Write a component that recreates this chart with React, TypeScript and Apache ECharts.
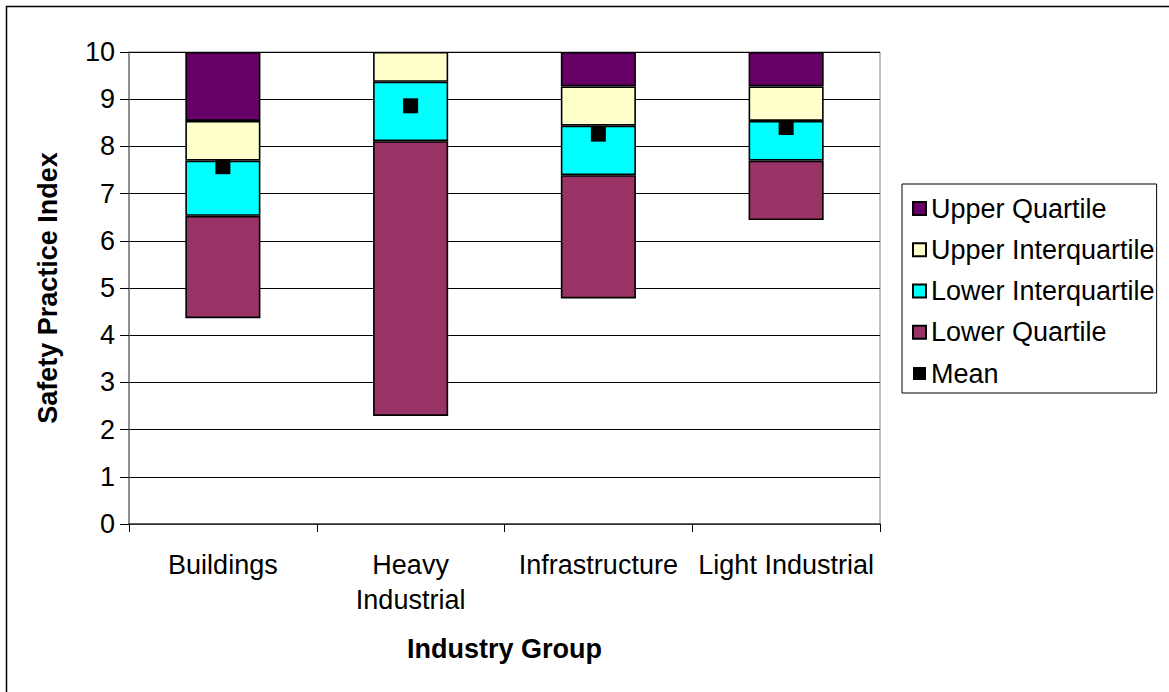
import React, { useEffect, useRef } from "react";
import * as echarts from "echarts";

// Industry groups on the category axis
const categories = ["Buildings", "Heavy\nIndustrial", "Infrastructure", "Light Industrial"];

// Box boundaries of the Safety Practice Index for each group
const minimum = [4.36, 2.29, 4.78, 6.44];
const lowerQuartileTop = [6.53, 8.11, 7.39, 7.7];
const median = [7.7, 9.37, 8.44, 8.54];
const upperQuartileBottom = [8.54, 10, 9.27, 9.27];
const maximum = [10, 10, 10, 10];

// Mean score of each group
const means = [7.57, 8.86, 8.26, 8.4];

const yTicks = [0, 1, 2, 3, 4, 5, 6, 7, 8, 9, 10];

const FONT = "Arial, 'Liberation Sans', sans-serif";
const FS = 27;

const diff = (top: number[], bottom: number[]) =>
  top.map((v, i) => +(v - bottom[i]).toFixed(2));

export default function App() {
  const ref = useRef<HTMLDivElement>(null);

  useEffect(() => {
    if (!ref.current) return;
    const chart = echarts.init(ref.current, undefined, { renderer: "svg" });

    const segStyle = (color: string) => ({
      color,
      borderColor: "#000",
      borderWidth: 1.6,
    });

    const option = {
      animation: false,
      backgroundColor: "#fff",
      textStyle: { fontFamily: FONT },
      graphic: [
        {
          type: "rect",
          shape: { x: 6.5, y: 6.5, width: 1175, height: 700 },
          style: { fill: "none", stroke: "#000", lineWidth: 1.5 },
          silent: true,
        },
      ],
      grid: {
        left: 129,
        right: 289,
        top: 52,
        bottom: 168,
        show: true,
        borderColor: "#808080",
        borderWidth: 1,
        backgroundColor: "transparent",
      },
      legend: {
        orient: "vertical",
        left: 902,
        top: 184,
        padding: [11, 2, 6, 10],
        itemGap: 14.25,
        itemWidth: 13,
        itemHeight: 13,
        icon: "rect",
        borderColor: "#000",
        borderWidth: 1,
        textStyle: { fontFamily: FONT, fontSize: FS, color: "#000", lineHeight: 26 },
        data: [
          "Upper Quartile",
          "Upper Interquartile",
          "Lower Interquartile",
          "Lower Quartile",
          "Mean",
        ],
      },
      xAxis: {
        type: "category",
        data: categories,
        name: "Industry Group",
        nameLocation: "middle",
        nameGap: 111,
        nameTextStyle: { fontFamily: FONT, fontSize: FS, fontWeight: "bold", color: "#000" },
        axisLine: { show: true, lineStyle: { color: "#404040", width: 1.5 } },
        axisTick: { show: true, length: 8, lineStyle: { color: "#000" } },
        axisLabel: {
          margin: 23,
          fontFamily: FONT,
          fontSize: FS,
          color: "#000",
          lineHeight: 35,
          interval: 0,
        },
      },
      yAxis: {
        type: "value",
        min: 0,
        max: 10,
        interval: 1,
        name: "Safety Practice Index",
        nameLocation: "middle",
        nameGap: 68,
        nameTextStyle: { fontFamily: FONT, fontSize: FS, fontWeight: "bold", color: "#000" },
        axisLine: { show: true, lineStyle: { color: "#808080", width: 1.5 } },
        axisTick: { show: true, length: 9, lineStyle: { color: "#000" } },
        axisLabel: {
          margin: 14,
          fontFamily: FONT,
          fontSize: FS,
          color: "#000",
          formatter: (v: number) => (yTicks.includes(v) ? String(v) : ""),
        },
        splitLine: { show: true, lineStyle: { color: "#000", width: 1 } },
      },
      series: [
        {
          name: "base",
          type: "bar",
          stack: "box",
          barCategoryGap: "60%",
          itemStyle: { color: "transparent", borderWidth: 0 },
          data: minimum,
          silent: true,
        },
        {
          name: "Lower Quartile",
          type: "bar",
          stack: "box",
          itemStyle: segStyle("#993366"),
          data: diff(lowerQuartileTop, minimum),
        },
        {
          name: "Lower Interquartile",
          type: "bar",
          stack: "box",
          itemStyle: segStyle("#00FFFF"),
          data: diff(median, lowerQuartileTop),
        },
        {
          name: "Upper Interquartile",
          type: "bar",
          stack: "box",
          itemStyle: segStyle("#FFFFCC"),
          data: diff(upperQuartileBottom, median),
        },
        {
          name: "Upper Quartile",
          type: "bar",
          stack: "box",
          itemStyle: segStyle("#660066"),
          data: diff(maximum, upperQuartileBottom).map((v) => (v > 0 ? v : null)),
        },
        {
          name: "Mean",
          type: "scatter",
          symbol: "rect",
          symbolSize: 15,
          itemStyle: { color: "#000", opacity: 1 },
          z: 5,
          data: means,
        },
      ],
    };

    chart.setOption(option as any);
    return () => chart.dispose();
  }, []);

  return (
    <div
      ref={ref}
      style={{ position: "absolute", left: 0, top: 0, width: 1169, height: 692, background: "#fff" }}
    />
  );
}
